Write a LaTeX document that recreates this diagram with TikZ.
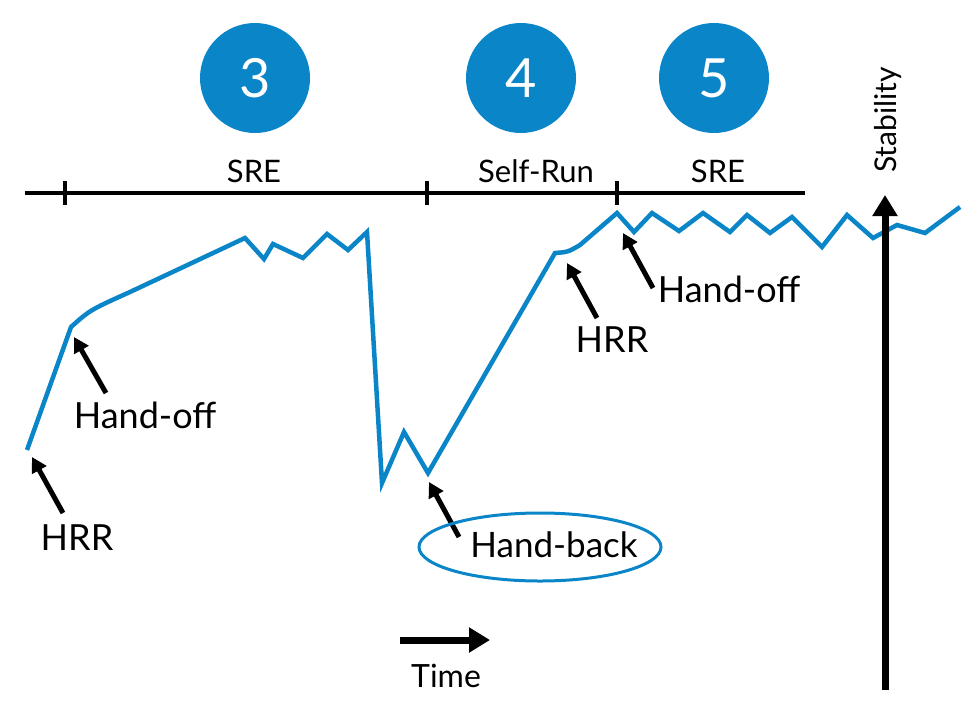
\documentclass[tikz,border=0pt]{standalone}
\usepackage{fontspec}
\setmainfont{Lato}
\usetikzlibrary{arrows.meta,positioning}
\definecolor{Sky}{HTML}{0A86C8}
\tikzset{
  trend/.style={draw=Sky,line width=4.5pt,line join=miter},
  ptr/.style={-{Triangle[length=15pt,width=16pt]},line width=5pt},
  bigptr/.style={-{Triangle[length=21pt,width=24pt]},line width=7pt},
  axisline/.style={line width=3.5pt},
  numdot/.style={circle,fill=Sky,minimum size=110pt,inner sep=0pt,text=white,font=\fontsize{54}{58}\selectfont},
  phase/.style={anchor=base,font=\fontsize{31}{34}\selectfont},
  lbl/.style={anchor=base,font=\fontsize{36}{40}\selectfont},
  ring/.style={draw=Sky,line width=3pt}
}
\begin{document}
\begin{tikzpicture}[x=1pt,y=-1pt]
  \useasboundingbox (0,0) rectangle (969,702);
  \node[numdot] (n3) at (255,78) {3};
  \node[numdot] (n4) at (521,78) {4};
  \node[numdot] (n5) at (714,78) {5};
  \node[phase] (sre1) at (254,182) {SRE};
  \node[phase] (self) at (536,182) {Self-Run};
  \node[phase] (sre2) at (718,182) {SRE};
  \coordinate (tl0) at (25,193); \coordinate (tl1) at (805,193);
  \draw[axisline] (tl0) -- (tl1);
  \foreach \x in {65,427,617} \draw[axisline] (\x,181) -- (\x,205);
  \draw[trend] (27,450) -- (71,327) .. controls (90,310) .. (130,292) -- (245,238)
    -- (264,259) -- (273,244) -- (303,258) -- (327,234) -- (348,250) -- (367,232)
    -- (382,483) -- (404,432) -- (428,473) -- (555,253) .. controls (568,252) .. (580,245)
    -- (617,213) -- (634,232) -- (652,213) -- (679,231) -- (703,213) -- (730,232)
    -- (747,215) -- (770,233) -- (792,217) -- (822,247) -- (847,215) -- (873,238)
    -- (897,225) -- (925,233) -- (960,207);
  \coordinate (hrr1a) at (63,513); \coordinate (hrr1b) at (32,457);
  \coordinate (hoff1a) at (106,393); \coordinate (hoff1b) at (74,337);
  \coordinate (hbacka) at (459,537); \coordinate (hbackb) at (429,482);
  \coordinate (hrr2a) at (597,318); \coordinate (hrr2b) at (567,263);
  \coordinate (hoff2a) at (653,288); \coordinate (hoff2b) at (623,233);
  \draw[ptr] (hrr1a) -- (hrr1b);
  \draw[ptr] (hoff1a) -- (hoff1b);
  \draw[ptr] (hbacka) -- (hbackb);
  \draw[ptr] (hrr2a) -- (hrr2b);
  \draw[ptr] (hoff2a) -- (hoff2b);
  \node[lbl] (hrr1) at (77,550) {HRR};
  \node[lbl] (hoff1) at (145,428) {Hand-off};
  \node[lbl,font=\fontsize{35}{38}\selectfont] (hback) at (554,557) {Hand-back};
  \draw[ring] (540,547) ellipse [x radius=121, y radius=34];
  \node[lbl] (hrr2) at (612,352) {HRR};
  \node[lbl] (hoff2) at (729,302) {Hand-off};
  \coordinate (t0) at (400,640); \coordinate (t1) at (490,640);
  \draw[bigptr] (t0) -- (t1);
  \node[lbl,font=\fontsize{32}{36}\selectfont] (time) at (446,687) {Time};
  \coordinate (s0) at (885,690); \coordinate (s1) at (885,195);
  \draw[bigptr] (s0) -- (s1);
  \node[rotate=90,font=\fontsize{30}{34}\selectfont] (stab) at (888,120) {Stability};
\end{tikzpicture}
\end{document}
